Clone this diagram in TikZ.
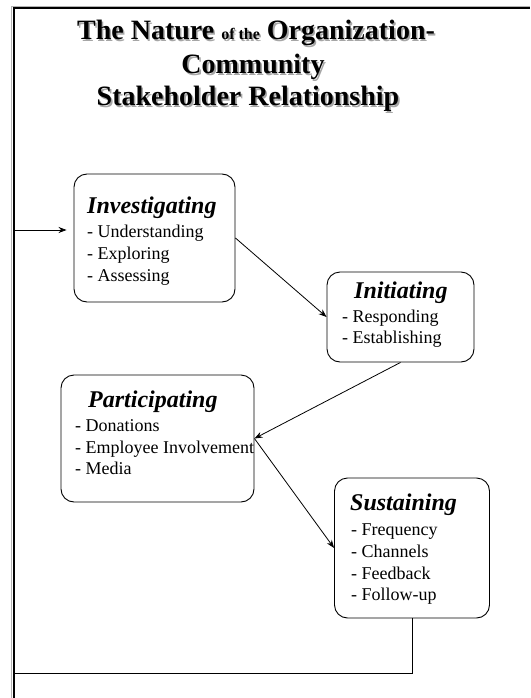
\documentclass[tikz,border=0pt]{standalone}
\usepackage{fontspec}
\setmainfont{Liberation Serif}
\usetikzlibrary{arrows.meta}

% text with a soft grey drop shadow
\newcommand{\shtext}[1]{\makebox[0pt][l]{\hspace{1.6pt}\raisebox{-1.6pt}{\color{black!35}#1}}#1}

\tikzset{
  stage/.style={draw, line width=0.9pt, rounded corners=13pt, minimum width=#1, inner sep=0pt},
  heading/.style={anchor=base west, inner sep=0pt, font=\fontsize{24}{24}\selectfont\bfseries\itshape},
  item/.style={anchor=base west, inner sep=0pt, font=\fontsize{18}{18}\selectfont},
  titleline/.style={anchor=base, inner sep=0pt, font=\fontsize{28}{28}\selectfont\bfseries},
  flow/.style={line width=0.8pt, -{Stealth[length=8pt,width=6pt]}},
  frame/.style={line width=2pt},
}

\begin{document}
\begin{tikzpicture}[x=1pt,y=-1pt]
\useasboundingbox (0,0) rectangle (530,698);

% slide frame: top edge and left edge
\draw[black!30, line width=1pt] (11,6.5) -- (530,6.5);
\draw[black!30, line width=1pt] (11.5,7) -- (11.5,698);
\draw[frame] (12.5,8.5) -- (530,8.5);
\draw[frame] (13.5,7.5) -- (13.5,698);

% title
\node[titleline] (t1) at (256,40) {\shtext{The Nature {\fontsize{16}{16}\selectfont of the} Organization-}};
\node[titleline] (t2) at (253,74) {\shtext{Community}};
\node[titleline] (t3) at (248,106) {\shtext{Stakeholder Relationship}};

% stage boxes
\node[stage=161pt, minimum height=128pt] (inv) at (154.5,238) {};
\node[stage=147pt, minimum height=90pt]  (ini) at (400.5,317) {};
\node[stage=193pt, minimum height=127pt] (par) at (157.5,438.5) {};
\node[stage=155pt, minimum height=140pt] (sus) at (412,548) {};

% stage texts
\node[heading] (invh) at (87,213) {Investigating};
\node[item] (inv1) at (87,237) {- Understanding};
\node[item] (inv2) at (87,259) {- Exploring};
\node[item] (inv3) at (87,281) {- Assessing};

\node[heading] (inih) at (354,298) {Initiating};
\node[item] (ini1) at (342,322) {- Responding};
\node[item] (ini2) at (342,343) {- Establishing};

\node[heading] (parh) at (88,407) {Participating};
\node[item] (par1) at (75,431) {- Donations};
\node[item] (par2) at (75,453) {- Employee Involvement};
\node[item] (par3) at (75,474) {- Media};

\node[heading] (sush) at (350,510) {Sustaining};
\node[item] (sus1) at (351,535) {- Frequency};
\node[item] (sus2) at (351,557) {- Channels};
\node[item] (sus3) at (351,579) {- Feedback};
\node[item] (sus4) at (351,600) {- Follow-up};

% flow between stages
\draw[flow] (inv.east) -- (ini.west);
\draw[flow] (ini.south) -- (par.east);
\draw[flow] (par.east) -- (sus.west);

% feedback loop back to the first stage
\coordinate (loopA) at (sus.south |- 0,673);
\coordinate (loopB) at (13.5,673);
\coordinate (loopC) at (13.5,230);
\draw[line width=0.9pt] (sus.south) -- (loopA) -- (loopB);
\draw[flow, shorten >=7pt] (loopC) -- (loopC -| inv.west);
\end{tikzpicture}
\end{document}
